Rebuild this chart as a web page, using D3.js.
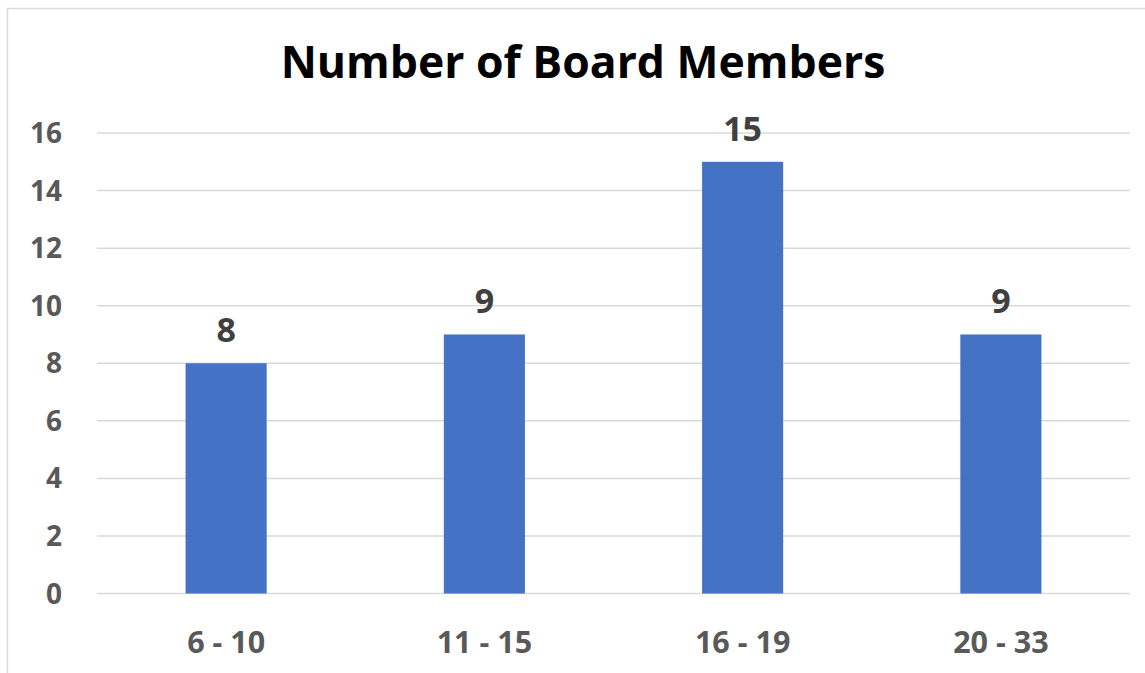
<!DOCTYPE html>
<html>
<head>
<meta charset="utf-8">
<script src="https://cdn.jsdelivr.net/npm/d3@7"></script>
<style>
  body { margin: 0; background: #fff; }
  text { font-family: "Open Sans", "Liberation Sans", sans-serif; font-weight: bold; }
</style>
</head>
<body>
<svg id="chart" width="1145" height="673"></svg>
<script>
var categories = ["6 - 10", "11 - 15", "16 - 19", "20 - 33"]
var members = [8, 9, 15, 9]
var yTicks = [0, 2, 4, 6, 8, 10, 12, 14, 16]

var svg = d3.select("#chart")

// chart frame, only left and top edges show in the picture
svg.append("rect")
  .attr("x", 7.5).attr("y", 8.5)
  .attr("width", 1160).attr("height", 680)
  .attr("fill", "white")
  .attr("stroke", "#d9d9d9")
  .attr("stroke-width", 1.5)

var plotLeft = 97, plotRight = 1130, plotTop = 133, plotBottom = 593.5

var x = d3.scaleBand()
  .domain(categories)
  .range([plotLeft, plotRight])

var y = d3.scaleLinear()
  .domain([0, 16])
  .range([plotBottom, plotTop])

var barWidth = x.bandwidth() * 0.314

svg.append("text")
  .attr("x", 583).attr("y", 78)
  .attr("text-anchor", "middle")
  .attr("font-size", 44.5)
  .attr("fill", "#000")
  .text("Number of Board Members")

// gridlines
svg.selectAll(".grid")
  .data(yTicks)
.enter().append("line")
  .attr("class", "grid")
  .attr("x1", plotLeft).attr("x2", plotRight)
  .attr("y1", function(d) { return y(d) })
  .attr("y2", function(d) { return y(d) })
  .attr("stroke", "#d9d9d9")
  .attr("stroke-width", 1.5)

// y tick labels
svg.selectAll(".ytick")
  .data(yTicks)
.enter().append("text")
  .attr("class", "ytick")
  .attr("x", 62)
  .attr("y", function(d) { return y(d) + 10 })
  .attr("text-anchor", "end")
  .attr("font-size", 28)
  .attr("fill", "#595959")
  .text(function(d) { return d })

svg.selectAll(".bar")
  .data(members)
.enter().append("rect")
  .attr("class", "bar")
  .attr("x", function(d, i) { return x(categories[i]) + x.bandwidth() / 2 - barWidth / 2 })
  .attr("y", function(d) { return y(d) })
  .attr("width", barWidth)
  .attr("height", function(d) { return y(0) - y(d) })
  .attr("fill", "#4472c4")

svg.selectAll(".val")
  .data(members)
.enter().append("text")
  .attr("class", "val")
  .attr("x", function(d, i) { return x(categories[i]) + x.bandwidth() / 2 })
  .attr("y", function(d) { return y(d) - 21 })
  .attr("text-anchor", "middle")
  .attr("font-size", 34)
  .attr("fill", "#404040")
  .text(function(d) { return d })

svg.selectAll(".xlab")
  .data(categories)
.enter().append("text")
  .attr("class", "xlab")
  .attr("x", function(d) { return x(d) + x.bandwidth() / 2 })
  .attr("y", 653)
  .attr("text-anchor", "middle")
  .attr("font-size", 30.5)
  .attr("fill", "#595959")
  .text(function(d) { return d })
</script>
</body>
</html>
